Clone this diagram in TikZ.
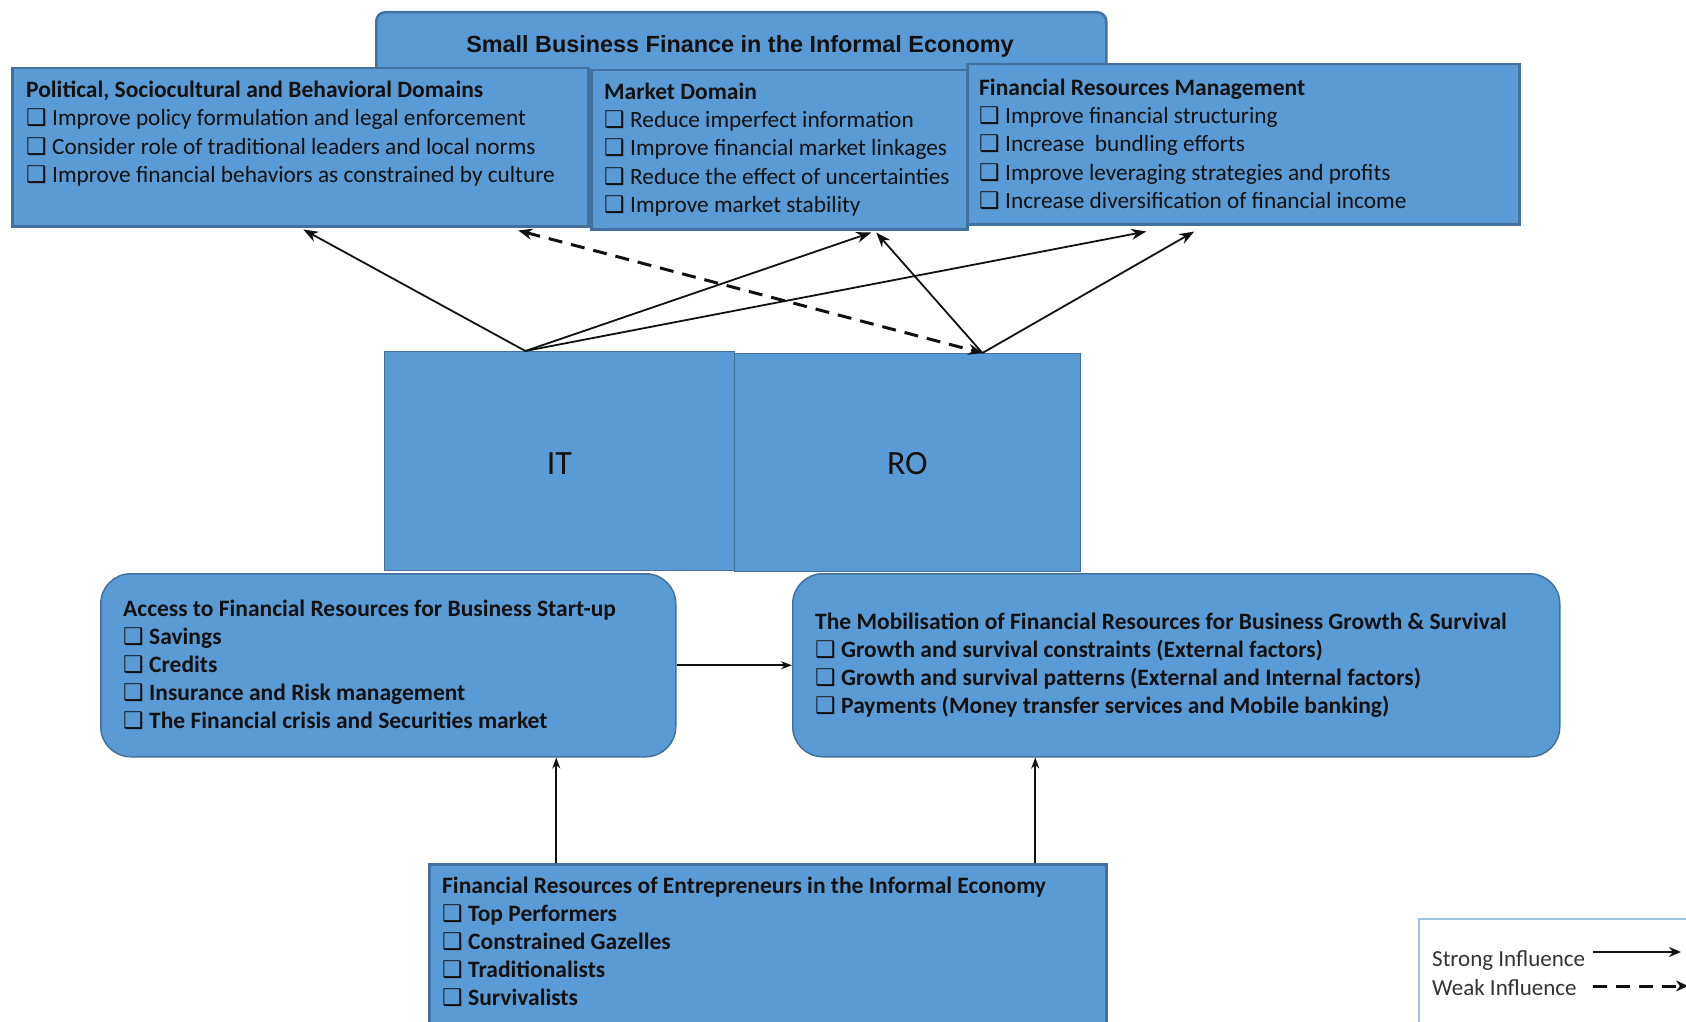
\documentclass[tikz,border=0pt]{standalone}
\usepackage{fontspec}
\setmainfont{Carlito}
\newfontfamily\headfont{Liberation Sans}
\newfontfamily\symfont{DejaVu Sans}
\usetikzlibrary{arrows.meta}
\definecolor{boxfill}{HTML}{5B9BD5}
\definecolor{boxline}{HTML}{41719C}
\definecolor{legline}{HTML}{9DC3E6}
\definecolor{ink}{HTML}{111111}
% check-box bullet with a fixed advance
\newcommand\cbx{\makebox[26pt][l]{\symfont\fontsize{23}{23}\selectfont\char"2751}}

\begin{document}
\begin{tikzpicture}[x=1pt,y=-1pt,
  panel/.style={draw=boxline, fill=boxfill, line width=2.5pt, inner sep=0pt, anchor=north west},
  roundpanel/.style={draw=boxline, fill=boxfill, line width=1.5pt, inner sep=0pt, anchor=north west, rounded corners=30pt},
  core/.style={draw=boxline, fill=boxfill, line width=0.8pt, inner sep=0pt, anchor=north west,
    font=\fontsize{34}{40}\selectfont, text=ink, text depth=0pt},
  txt/.style={anchor=base west, inner sep=0pt, text=ink, font=\fontsize{23.3}{28}\selectfont},
  head/.style={txt, font=\fontsize{23.5}{28}\selectfont\bfseries},
  strong/.style={draw=ink, line width=1.8pt, -{Stealth[length=15pt,width=11pt]}},
  small strong/.style={draw=ink, line width=1.8pt, -{Stealth[length=11pt,width=8pt]}},
  weak/.style={draw=ink, line width=3pt, dash pattern=on 14pt off 9pt,
    {Stealth[length=14pt,width=11pt]}-{Stealth[length=14pt,width=11pt]}},
  legtxt/.style={anchor=base west, inner sep=0pt, text=black!80, font=\fontsize{23}{28}\selectfont}
]
\useasboundingbox (0,0) rectangle (1686,1022);

% overall heading
\node[panel, rounded corners=9pt, minimum width=730pt, minimum height=70pt] (title) at (375,11) {};
\node[anchor=base, inner sep=0pt, text=ink, font=\fontsize{23.4}{28}\selectfont\headfont\bfseries]
  (title-txt) at (740,53) {Small Business Finance in the Informal Economy};

% three domains
\node[panel, minimum width=576pt, minimum height=158pt] (pol) at (11,67) {};
\node[panel, minimum width=376pt, minimum height=159pt] (mkt) at (590,69) {};
\node[panel, minimum width=552pt, minimum height=160pt] (frm) at (966,63) {};

\node[head] (pol-0) at (26,98) {Political, Sociocultural and Behavioral Domains};
\foreach \t [count=\i] in {Improve policy formulation and legal enforcement,
    Consider role of traditional leaders and local norms,
    Improve financial behaviors as constrained by culture}
  \node[txt] (pol-\i) at (26,98+28*\i) {\cbx\t};

\node[head] (mkt-0) at (604,100) {Market Domain};
\foreach \t [count=\i] in {Reduce imperfect information,
    Improve financial market linkages,
    Reduce the effect of uncertainties,
    Improve market stability}
  \node[txt] (mkt-\i) at (604,100+28*\i) {\cbx\t};

\node[head] (frm-0) at (979,96) {Financial Resources Management};
\foreach \t [count=\i] in {Improve financial structuring,
    Increase\ \ bundling efforts,
    Improve leveraging strategies and profits,
    Increase diversification of financial income}
  \node[txt] (frm-\i) at (979,96+28*\i) {\cbx\t};

% theories
\node[core, text height=28pt, minimum width=350pt, minimum height=219pt] (it) at (384,351) {IT};
\node[core, text height=25pt, minimum width=346pt, minimum height=218pt] (ro) at (734,353) {RO};

% access and mobilisation
\node[roundpanel, minimum width=575pt, minimum height=183pt] (acc) at (100,573) {};
\node[roundpanel, minimum width=767pt, minimum height=183pt] (mob) at (792,573) {};

\node[head] (acc-0) at (123,616) {Access to Financial Resources for Business Start-up};
\foreach \t [count=\i] in {Savings, Credits, Insurance and Risk management,
    The Financial crisis and Securities market}
  \node[head] (acc-\i) at (123,616+28*\i) {\cbx\t};

\node[head] (mob-0) at (815,629) {The Mobilisation of Financial Resources for Business Growth \& Survival};
\foreach \t [count=\i] in {Growth and survival constraints (External factors),
    Growth and survival patterns (External and Internal factors),
    Payments (Money transfer services and Mobile banking)}
  \node[head] (mob-\i) at (815,629+28*\i) {\cbx\t};

% entrepreneurs
\node[panel, minimum width=677pt, minimum height=200pt] (bot) at (428,863) {};
\node[head] (bot-0) at (442,893) {Financial Resources of Entrepreneurs in the Informal Economy};
\foreach \t [count=\i] in {Top Performers, Constrained Gazelles, Traditionalists, Survivalists}
  \node[head] (bot-\i) at (442,893+28*\i) {\cbx\t};

% influences
\draw[strong] ([xshift=-34pt]it.north) -- ([xshift=3pt,yshift=-2pt]pol.south);
\draw[strong] ([xshift=-34pt]it.north) -- ([xshift=92pt,yshift=-2pt]mkt.south);
\draw[strong] ([xshift=-34pt]it.north) -- ([xshift=-97pt,yshift=-6pt]frm.south);
\draw[strong] ([xshift=75pt]ro.north) -- ([xshift=97pt,yshift=-2pt]mkt.south);
\draw[strong] ([xshift=75pt]ro.north) -- ([xshift=-49pt,yshift=-6pt]frm.south);
\draw[weak] ([xshift=218pt,yshift=-3pt]pol.south) -- ([xshift=75pt]ro.north);

\draw[small strong] (acc.east) -- (mob.west);
\draw[small strong] ([xshift=-211.5pt]bot.north) -- ([xshift=-211.5pt]bot.north |- acc.south);
\draw[small strong] ([xshift=267.5pt]bot.north) -- ([xshift=267.5pt]bot.north |- mob.south);

% legend
\node[draw=legline, fill=white, line width=1.5pt, inner sep=0pt, anchor=north west,
  minimum width=300pt, minimum height=150pt] (leg) at (1418,918) {};
\node[legtxt] (leg-s) at (1432,966) {Strong Influence};
\node[legtxt] (leg-w) at (1432,995) {Weak Influence};
\coordinate (ls1) at (1593,952);
\coordinate (ls2) at (1681,952);
\coordinate (lw1) at (1593,986);
\coordinate (lw2) at (1688,986);
\draw[draw=ink, line width=1.8pt, -{Stealth[length=12pt,width=10pt]}] (ls1) -- (ls2);
\draw[draw=ink, line width=3pt, dash pattern=on 14pt off 9pt, -{Stealth[length=12pt,width=11pt]}] (lw1) -- (lw2);
\end{tikzpicture}
\end{document}
